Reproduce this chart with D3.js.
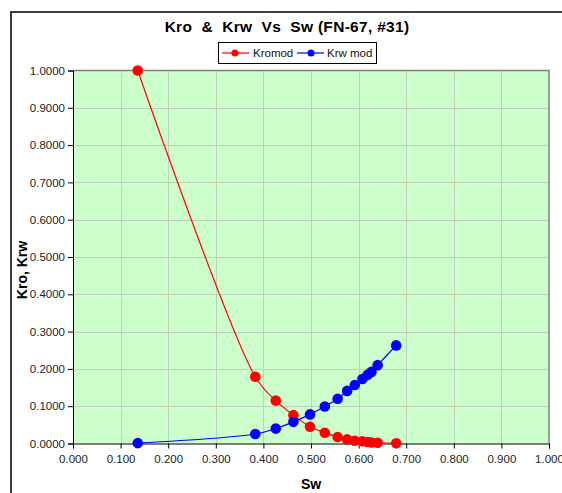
<!DOCTYPE html>
<html>
<head>
<meta charset="utf-8">
<script src="https://cdn.jsdelivr.net/npm/d3@7"></script>
<style>
  html, body { margin: 0; padding: 0; background: #fff; }
  svg { display: block; font-family: "Liberation Sans", Arial, sans-serif; }
</style>
</head>
<body>
<svg id="chart" width="562" height="493"></svg>
<script>
// Water saturation values shared by both series
const sw = [0.136, 0.383, 0.426, 0.463, 0.498, 0.529, 0.556, 0.576, 0.592, 0.608, 0.619, 0.627, 0.640, 0.679];
// Oil relative permeability (Kromod)
const kro = [1.0000, 0.1790, 0.1150, 0.0760, 0.0450, 0.0290, 0.0175, 0.0110, 0.0075, 0.0060, 0.0040, 0.0025, 0.0020, 0.0005];
// Water relative permeability (Krw mod)
const krw = [0.0010, 0.0255, 0.0400, 0.0580, 0.0780, 0.0990, 0.1200, 0.1410, 0.1570, 0.1730, 0.1840, 0.1920, 0.2100, 0.2630];

const yTicks = d3.range(0, 1.0001, 0.1);
const xTicks = d3.range(0, 1.0001, 0.1);
const seriesNames = ["Kromod", "Krw mod"];
const seriesColors = ["#ff0000", "#0000ff"];

const svg = d3.select("#chart");
const plot = { left: 73, right: 549, top: 70.5, bottom: 443.5 };

const x = d3.scaleLinear().domain([0, 1]).range([plot.left, plot.right]);
const y = d3.scaleLinear().domain([0, 1]).range([plot.bottom, plot.top]);

// outer chart frame (extends beyond the visible window on right/bottom)
svg.append("rect")
  .attr("x", 11).attr("y", 12)
  .attr("width", 600).attr("height", 600)
  .attr("fill", "#fff")
  .attr("stroke", "#000").attr("stroke-width", 1.5);

// plot background
svg.append("rect")
  .attr("x", plot.left).attr("y", plot.top)
  .attr("width", plot.right - plot.left).attr("height", plot.bottom - plot.top)
  .attr("fill", "#ccffcc");

// gridlines
const grid = svg.append("g").attr("stroke", "#bcd2bc").attr("stroke-width", 1);
grid.selectAll(".gx").data(xTicks.slice(1, -1)).join("line")
  .attr("x1", d => Math.round(x(d)) + 0.5).attr("x2", d => Math.round(x(d)) + 0.5)
  .attr("y1", plot.top).attr("y2", plot.bottom);
grid.selectAll(".gy").data(yTicks.slice(1, -1)).join("line")
  .attr("y1", d => Math.round(y(d)) + 0.5).attr("y2", d => Math.round(y(d)) + 0.5)
  .attr("x1", plot.left).attr("x2", plot.right);

// plot border (top & right)
svg.append("path")
  .attr("d", `M${plot.left},${plot.top}H${plot.right}V${plot.bottom}`)
  .attr("fill", "none").attr("stroke", "#808080").attr("stroke-width", 1.5);

// axes
const yAxis = d3.axisLeft(y).tickValues(yTicks).tickFormat(d3.format(".4f")).tickSizeOuter(0).tickSize(5).tickPadding(3);
const xAxis = d3.axisBottom(x).tickValues(xTicks).tickFormat(d3.format(".3f")).tickSizeOuter(0).tickSize(5).tickPadding(6);

const gy = svg.append("g").attr("transform", `translate(${plot.left},0)`).call(yAxis);
const gx = svg.append("g").attr("transform", `translate(0,${plot.bottom})`).call(xAxis);
[gx, gy].forEach(g => {
  g.selectAll("path, line").attr("stroke", "#000");
  g.selectAll("text").attr("fill", "#222").style("font-size", "11.5px")
    .style("font-family", "'Liberation Sans', Arial, sans-serif");
});

// series lines and markers (centripetal smoothing keeps the curve from overshooting)
const line = d3.line().curve(d3.curveCatmullRom.alpha(0.5));
[kro, krw].forEach((vals, i) => {
  const pts = sw.map((s, j) => [x(s), y(vals[j])]);
  svg.append("path")
    .attr("d", line(pts))
    .attr("fill", "none").attr("stroke", seriesColors[i]).attr("stroke-width", 1.2);
  svg.append("g").selectAll("circle").data(pts).join("circle")
    .attr("cx", d => d[0]).attr("cy", d => d[1]).attr("r", 5.3)
    .attr("fill", seriesColors[i]);
});

// chart title
svg.append("text")
  .attr("x", 287).attr("y", 32)
  .attr("text-anchor", "middle")
  .style("white-space", "pre")
  .style("font-weight", "bold").style("font-size", "15.5px")
  .style("letter-spacing", "0.3px")
  .text("Kro  &  Krw  Vs  Sw (FN-67, #31)");

// axis titles
svg.append("text")
  .attr("x", 311).attr("y", 489)
  .attr("text-anchor", "middle")
  .style("font-weight", "bold").style("font-size", "14px")
  .text("Sw");
svg.append("text")
  .attr("transform", "translate(27,270) rotate(-90)")
  .attr("text-anchor", "middle")
  .style("font-weight", "bold").style("font-size", "14px")
  .text("Kro, Krw");

// legend
const lg = svg.append("g");
lg.append("rect")
  .attr("x", 218.5).attr("y", 42.5).attr("width", 158).attr("height", 21)
  .attr("fill", "#fff").attr("stroke", "#000").attr("stroke-width", 1);
const legendItems = [
  { x0: 222, x1: 249, mx: 235, tx: 253 },
  { x0: 297, x1: 324, mx: 311, tx: 327 }
];
legendItems.forEach((it, i) => {
  lg.append("line").attr("x1", it.x0).attr("x2", it.x1).attr("y1", 53).attr("y2", 53)
    .attr("stroke", seriesColors[i]).attr("stroke-width", 1.2);
  lg.append("circle").attr("cx", it.mx).attr("cy", 53).attr("r", 3.5).attr("fill", seriesColors[i]);
  lg.append("text").attr("x", it.tx).attr("y", 57).style("font-size", "11.5px")
    .attr("fill", "#111").text(seriesNames[i]);
});
</script>
</body>
</html>
